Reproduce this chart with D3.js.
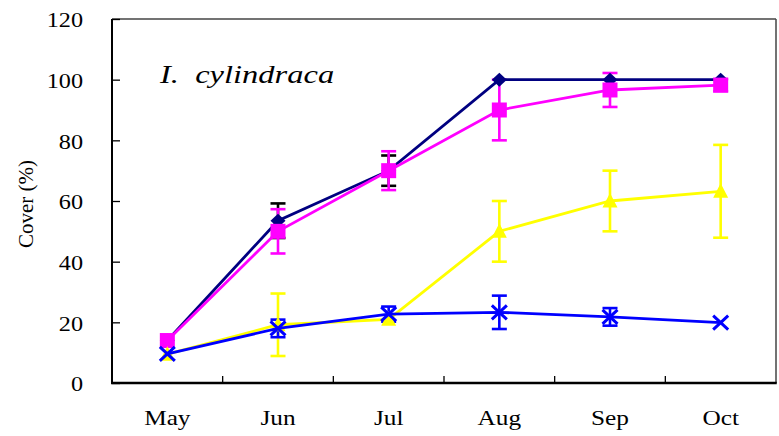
<!DOCTYPE html>
<html>
<head>
<meta charset="utf-8">
<script src="https://cdn.jsdelivr.net/npm/d3@7"></script>
<style>
  html, body { margin: 0; padding: 0; background: #fff; }
  svg { display: block; }
</style>
</head>
<body>
<svg id="chart" width="779" height="436"></svg>
<script>
// Monthly cover (%) for four treatments, with symmetric error bars
const months = ["May", "Jun", "Jul", "Aug", "Sep", "Oct"];
const yTicks = [0, 20, 40, 60, 80, 100, 120];

const navyValues = [14, 53.5, 70, 100, 100, 100];
const navyErrors = [0, 5.7, 5, 0, 0, 0];
const magentaValues = [14, 50, 70, 90, 96.6, 98.2];
const magentaErrors = [0, 7.3, 6.4, 10, 5.6, 2];
const yellowValues = [9.5, 19.2, 21, 50, 60, 63.2];
const yellowErrors = [0, 10.3, 0, 10, 10, 15.3];
const blueValues = [9.6, 18, 22.7, 23.3, 21.8, 19.9];
const blueErrors = [0, 2.9, 2.5, 5.5, 2.9, 0];

const series = [
  { name: "navy", values: navyValues, errors: navyErrors, color: "#000080", errColor: "#000000", marker: "diamond" },
  { name: "magenta", values: magentaValues, errors: magentaErrors, color: "#FF00FF", errColor: "#FF00FF", marker: "square" },
  { name: "yellow", values: yellowValues, errors: yellowErrors, color: "#FFFF00", errColor: "#FFFF00", marker: "triangle" },
  { name: "blue", values: blueValues, errors: blueErrors, color: "#0000FF", errColor: "#0000FF", marker: "cross" }
];

const FONT = "'Liberation Serif', 'Times New Roman', Times, serif";

const svg = d3.select("#chart");
const margin = { left: 112, right: 3, top: 19, bottom: 53 };
const W = 779, H = 436;
const plotW = W - margin.left - margin.right;
const plotH = H - margin.top - margin.bottom;

const x = d3.scaleBand().domain(months).range([margin.left, margin.left + plotW]);
const y = d3.scaleLinear().domain([0, 120]).range([margin.top + plotH, margin.top]);
const cx = m => x(m) + x.bandwidth() / 2;

// Frame: light top/right border, heavier left/bottom axes
svg.append("line").attr("x1", margin.left).attr("x2", margin.left + plotW)
  .attr("y1", margin.top).attr("y2", margin.top).attr("stroke", "#444").attr("stroke-width", 1.5);
svg.append("line").attr("x1", margin.left + plotW).attr("x2", margin.left + plotW)
  .attr("y1", margin.top).attr("y2", margin.top + plotH).attr("stroke", "#444").attr("stroke-width", 1.5);

// Y axis with inward ticks and slightly widened serif labels
const yAxis = d3.axisRight(y).tickValues(yTicks).tickSize(8).tickFormat(d => d);
const yg = svg.append("g").attr("transform", `translate(${margin.left},0)`).call(yAxis);
yg.select(".domain").remove();
yg.selectAll(".tick line").attr("stroke", "#000").attr("stroke-width", 1.3);
yg.selectAll(".tick text")
  .attr("x", null).attr("dy", "0.35em")
  .attr("transform", `translate(${83 - margin.left},0) scale(1.1,1)`)
  .attr("text-anchor", "end")
  .attr("font-family", FONT).attr("font-size", 22).attr("fill", "#000");
svg.append("line").attr("x1", margin.left).attr("x2", margin.left)
  .attr("y1", margin.top).attr("y2", margin.top + plotH).attr("stroke", "#000").attr("stroke-width", 2);

// X axis: ticks on category boundaries, labels centred on categories
const xAxis = d3.axisBottom(x).tickSize(0).tickPadding(0);
const xg = svg.append("g").attr("transform", `translate(0,${margin.top + plotH})`).call(xAxis);
xg.select(".domain").remove();
xg.selectAll(".tick text")
  .attr("y", null).attr("dy", null)
  .attr("transform", "translate(0,42) scale(1.15,1)")
  .attr("font-family", FONT).attr("font-size", 22).attr("fill", "#000");
months.slice(1).forEach(m => {
  svg.append("line").attr("x1", x(m)).attr("x2", x(m))
    .attr("y1", margin.top + plotH).attr("y2", margin.top + plotH - 7)
    .attr("stroke", "#000").attr("stroke-width", 1.3);
});
svg.append("line").attr("x1", margin.left - 1).attr("x2", margin.left + plotW + 0.75)
  .attr("y1", margin.top + plotH).attr("y2", margin.top + plotH).attr("stroke", "#000").attr("stroke-width", 2.5);

// Y axis title
svg.append("text").attr("transform", `translate(33,${y(59)}) rotate(-90) scale(1.05,1)`)
  .attr("text-anchor", "middle").attr("font-family", FONT).attr("font-size", 20).text("Cover (%)");

// Species label
svg.append("text").attr("transform", "translate(160,83) scale(1.25,1)").attr("font-size", 26)
  .attr("font-family", FONT).attr("font-style", "italic")
  .attr("xml:space", "preserve").text("I.  cylindraca");

// Error bars (drawn beneath lines and markers)
const capHalf = 7.5;
const errLayer = svg.append("g");
series.forEach(s => {
  s.values.forEach((v, i) => {
    const e = s.errors[i];
    if (!e) return;
    const px = cx(months[i]);
    const g = errLayer.append("g").attr("stroke", s.errColor).attr("stroke-width", 2.6);
    g.append("line").attr("x1", px).attr("x2", px).attr("y1", y(v + e)).attr("y2", y(v - e));
    g.append("line").attr("x1", px - capHalf).attr("x2", px + capHalf).attr("y1", y(v + e)).attr("y2", y(v + e));
    g.append("line").attr("x1", px - capHalf).attr("x2", px + capHalf).attr("y1", y(v - e)).attr("y2", y(v - e));
  });
});

// Lines and markers, series by series
const line = d3.line().x((d, i) => cx(months[i])).y(d => y(d));
series.forEach(s => {
  const g = svg.append("g");
  g.append("path").datum(s.values).attr("d", line)
    .attr("fill", "none").attr("stroke", s.color).attr("stroke-width", 2.8);
  s.values.forEach((v, i) => {
    const px = cx(months[i]), py = y(v);
    if (s.marker === "diamond") {
      g.append("path").attr("d", `M${px},${py - 7}L${px + 7.5},${py}L${px},${py + 7}L${px - 7.5},${py}Z`).attr("fill", s.color);
    } else if (s.marker === "square") {
      g.append("rect").attr("x", px - 7.5).attr("y", py - 7.5).attr("width", 15).attr("height", 15).attr("fill", s.color);
    } else if (s.marker === "triangle") {
      g.append("path").attr("d", `M${px},${py - 8}L${px + 7.5},${py + 6.5}L${px - 7.5},${py + 6.5}Z`).attr("fill", s.color);
    } else {
      g.append("path").attr("d", `M${px - 7.5},${py - 7}L${px + 7.5},${py + 7}M${px - 7.5},${py + 7}L${px + 7.5},${py - 7}`)
        .attr("stroke", s.color).attr("stroke-width", 3).attr("fill", "none");
    }
  });
});
</script>
</body>
</html>
